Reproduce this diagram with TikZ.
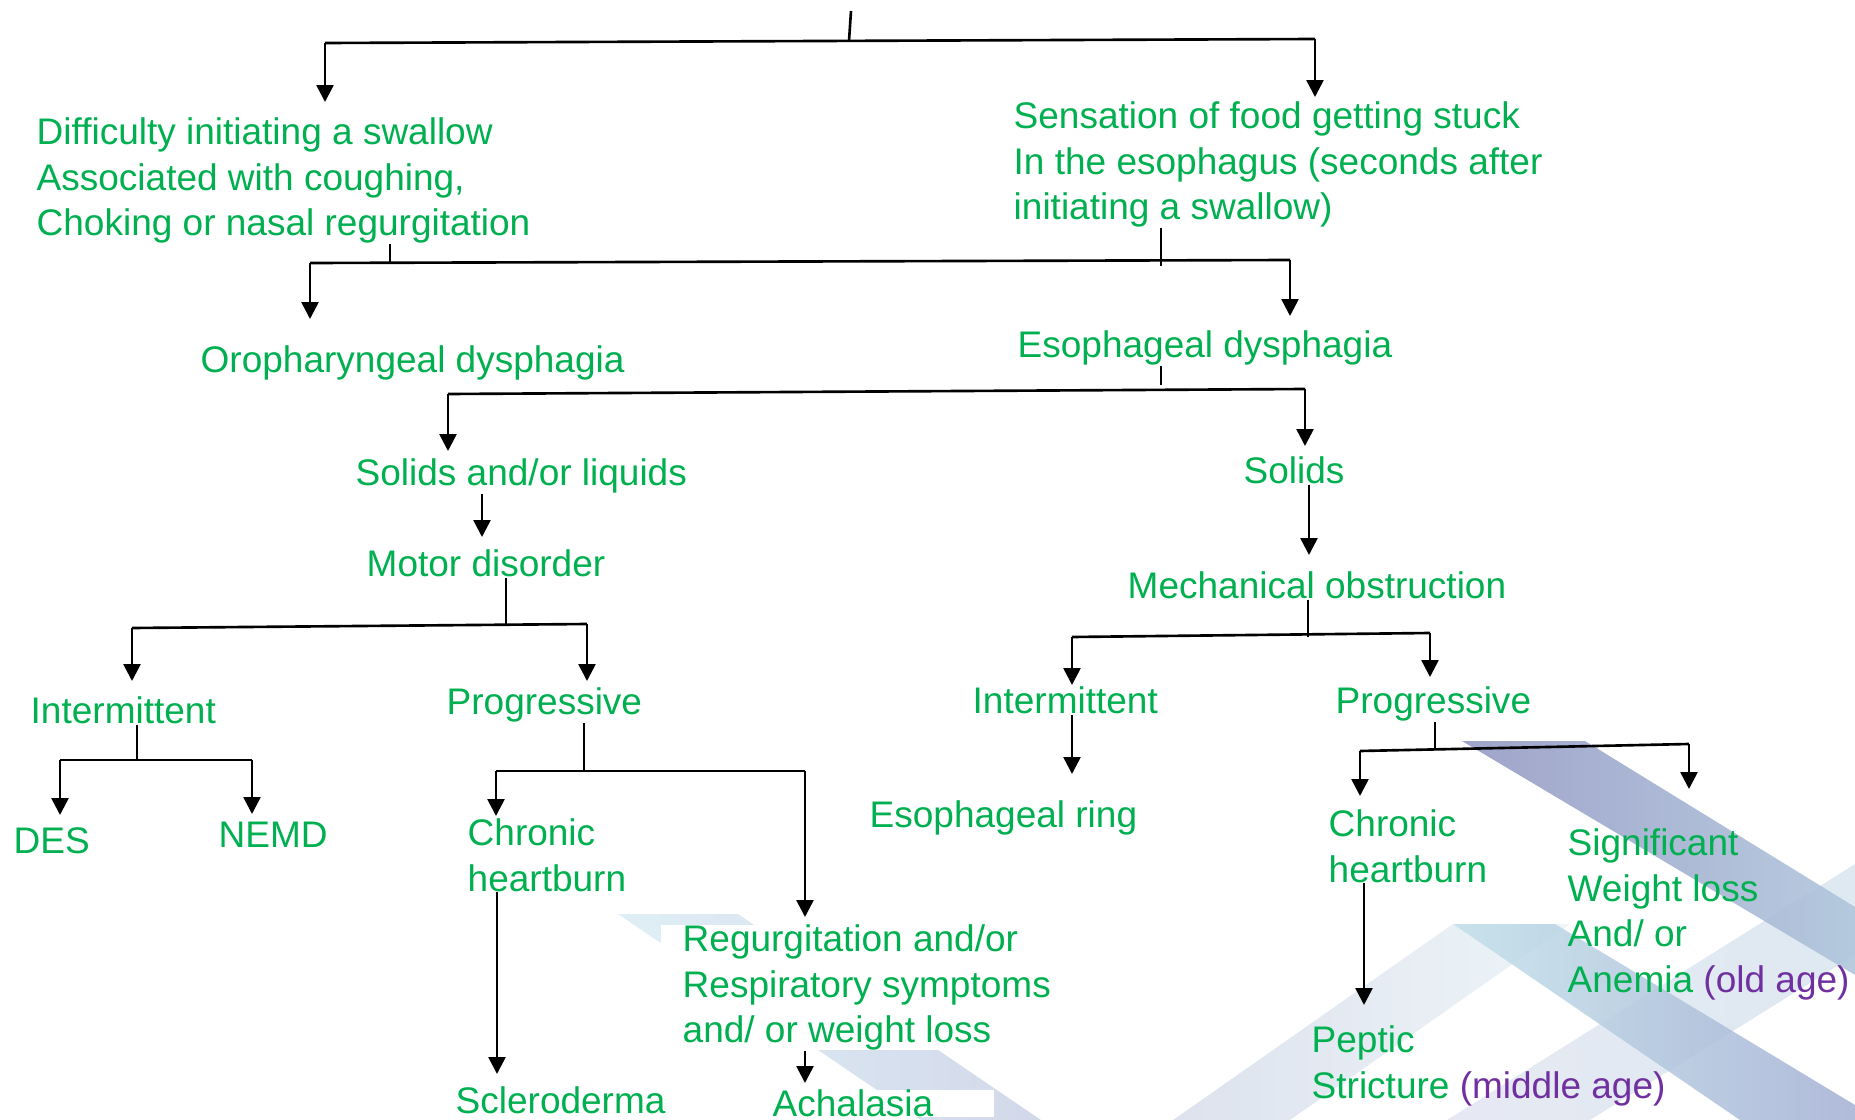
\documentclass[tikz,border=0pt]{standalone}
\usepackage{fontspec}
\setmainfont{Liberation Sans}
\usetikzlibrary{arrows.meta}

\definecolor{grn}{HTML}{00B050}
\definecolor{purp}{HTML}{7030A0}

\begin{document}
\begin{tikzpicture}[
	txt/.style={text=grn,font=\fontsize{10.53pt}{12.95pt}\selectfont,align=left,inner sep=0pt,anchor=north west,yshift=0.03cm},
	conn/.style={line width=0.75pt},
	arr/.style={conn,-{Triangle[width=0.17cm,length=0.17cm]}},
	band/.style={draw=none,opacity=0.9}]
	\useasboundingbox (0,0) rectangle (18.55,-11.2);
	
	%background stripes
	\shade[band,left color={rgb,255:red,220;green,237;blue,245},right color={rgb,255:red,205;green,212;blue,231}] (6.18,-9.14)--(7.38,-9.14)--(10.41,-11.2)--(9.21,-11.2)--cycle;
	\shade[band,left color={rgb,255:red,217;green,223;blue,236},right color={rgb,255:red,236;green,244;blue,247}] (14.53,-9.24)--(15.70,-9.24)--(12.90,-11.2)--(11.73,-11.2)--cycle;
	\shade[band,opacity=0.75,left color={rgb,255:red,222;green,226;blue,239},right color={rgb,255:red,211;green,226;blue,236}] (14.47,-11.2)--(18.55,-8.64)--(18.55,-9.55)--(15.90,-11.2)--cycle;
	\shade[band,opacity=0.85,left color={rgb,255:red,194;green,224;blue,234},right color={rgb,255:red,163;green,175;blue,211}] (14.53,-9.24)--(15.55,-9.24)--(18.55,-11.05)--(18.55,-11.2)--(17.40,-11.2)--cycle;
	\shade[band,left color={rgb,255:red,149;green,154;blue,196},right color={rgb,255:red,176;green,198;blue,220}] (14.62,-7.41)--(15.85,-7.41)--(18.55,-9.07)--(18.55,-9.75)--cycle;
	
	%texts
	\node[txt] (diff) at (0.36,-1.20) {Difficulty initiating a swallow\\Associated with coughing,\\Choking or nasal regurgitation};
	\node[txt] (sens) at (10.13,-1.04) {Sensation of food getting stuck\\In the esophagus (seconds after\\initiating a swallow)};
	\node[txt] (oro) at (2.00,-3.48) {Oropharyngeal dysphagia};
	\node[txt] (eso) at (10.17,-3.33) {Esophageal dysphagia};
	\node[txt] (sol) at (3.55,-4.61) {Solids and/or liquids};
	\node[txt] (solid) at (12.43,-4.59) {Solids};
	\node[txt] (motor) at (3.66,-5.52) {Motor disorder};
	\node[txt] (mech) at (11.27,-5.74) {Mechanical obstruction};
	\node[txt] (int1) at (0.30,-6.99) {Intermittent};
	\node[txt] (prog1) at (4.46,-6.90) {Progressive};
	\node[txt] (int2) at (9.72,-6.89) {Intermittent};
	\node[txt] (prog2) at (13.35,-6.89) {Progressive};
	\node[txt] (des) at (0.13,-8.30) {DES};
	\node[txt] (nemd) at (2.18,-8.24) {NEMD};
	\node[txt] (chr1) at (4.67,-8.21) {Chronic\\heartburn};
	\node[txt,fill=white,inner xsep=0.22cm] (regurg) at (6.60,-9.27) {Regurgitation and/or\\Respiratory symptoms\\and/ or weight loss};
	\node[txt] (sclero) at (4.55,-10.89) {Scleroderma};
	\node[txt,fill=white,text width=2.21cm] (achal) at (7.72,-10.92) {Achalasia};
	\node[txt] (ring) at (8.69,-8.03) {Esophageal ring};
	\node[txt] (chr2) at (13.28,-8.12) {Chronic\\heartburn};
	\node[txt] (sig) at (15.67,-8.31) {Significant\\Weight loss\\And/ or\\Anemia \textcolor{purp}{(old age)}};
	\node[txt] (pep) at (13.11,-10.28) {Peptic\\Stricture \textcolor{purp}{(middle age)}};
	
	%top split
	\coordinate (top) at (8.51,-0.11);
	\coordinate (j0) at (8.49,-0.41);
	\coordinate (l0) at (3.25,-0.43);
	\coordinate (r0) at (13.15,-0.39);
	\coordinate (t0l) at (3.25,-1.02);
	\coordinate (t0r) at (13.15,-0.97);
	\draw[conn] (top)--(j0);
	\draw[conn] (l0)--(r0);
	\draw[arr] (l0)--(t0l);
	\draw[arr] (r0)--(t0r);
	
	%symptoms to type of dysphagia
	\coordinate (j1a) at (3.90,-2.62);
	\coordinate (j1b) at (11.61,-2.66);
	\coordinate (l1) at (3.10,-2.63);
	\coordinate (r1) at (12.90,-2.60);
	\coordinate (t1l) at (3.10,-3.19);
	\coordinate (t1r) at (12.90,-3.16);
	\draw[conn] (diff.south -| j1a)--(j1a);
	\draw[conn] (sens.south -| j1b)--(j1b);
	\draw[conn] (l1)--(r1);
	\draw[arr] (l1)--(t1l);
	\draw[arr] (r1)--(t1r);
	
	%esophageal dysphagia split
	\coordinate (j2) at (11.61,-3.85);
	\coordinate (l2) at (4.48,-3.94);
	\coordinate (r2) at (13.05,-3.89);
	\coordinate (t2l) at (4.48,-4.51);
	\coordinate (t2r) at (13.05,-4.46);
	\draw[conn] (eso.south -| j2)--(j2);
	\draw[conn] (l2)--(r2);
	\draw[arr] (l2)--(t2l);
	\draw[arr] (r2)--(t2r);
	
	\coordinate (tmot) at (4.82,-5.37);
	\coordinate (tmech) at (13.09,-5.55);
	\draw[arr] (sol.south -| tmot)--(tmot);
	\draw[arr] (solid.south -| tmech)--(tmech);
	
	%motor disorder
	\coordinate (j3) at (5.06,-6.25);
	\coordinate (l3) at (1.32,-6.28);
	\coordinate (r3) at (5.87,-6.24);
	\coordinate (t3l) at (1.32,-6.81);
	\coordinate (t3r) at (5.87,-6.81);
	\draw[conn] (motor.south -| j3)--(j3);
	\draw[conn] (l3)--(r3);
	\draw[arr] (l3)--(t3l);
	\draw[arr] (r3)--(t3r);
	
	\coordinate (j4) at (1.37,-7.60);
	\coordinate (l4) at (0.60,-7.60);
	\coordinate (r4) at (2.52,-7.60);
	\coordinate (t4l) at (0.60,-8.15);
	\coordinate (t4r) at (2.52,-8.14);
	\draw[conn] (int1.south -| j4)--(j4);
	\draw[conn] (l4)--(r4);
	\draw[arr] (l4)--(t4l);
	\draw[arr] (r4)--(t4r);
	
	\coordinate (j5) at (5.84,-7.71);
	\coordinate (l5) at (4.96,-7.71);
	\coordinate (r5) at (8.05,-7.71);
	\coordinate (t5l) at (4.96,-8.16);
	\coordinate (t5r) at (8.05,-9.17);
	\draw[conn] (prog1.south -| j5)--(j5);
	\draw[conn] (l5)--(r5);
	\draw[arr] (l5)--(t5l);
	\draw[arr] (r5)--(t5r);
	
	\coordinate (tscl) at (4.97,-10.74);
	\coordinate (tach) at (8.05,-10.83);
	\draw[arr] (chr1.south -| tscl)--(tscl);
	\draw[arr] (regurg.south -| tach)--(tach);
	
	%mechanical obstruction
	\coordinate (j6) at (13.08,-6.37);
	\coordinate (l6) at (10.72,-6.37);
	\coordinate (r6) at (14.30,-6.33);
	\coordinate (t6l) at (10.72,-6.85);
	\coordinate (t6r) at (14.30,-6.77);
	\draw[conn] (mech.south -| j6)--(j6);
	\draw[conn] (l6)--(r6);
	\draw[arr] (l6)--(t6l);
	\draw[arr] (r6)--(t6r);
	
	\coordinate (tring) at (10.72,-7.74);
	\draw[arr] (int2.south -| tring)--(tring);
	
	\coordinate (j7) at (14.35,-7.49);
	\coordinate (l7) at (13.60,-7.51);
	\coordinate (r7) at (16.89,-7.44);
	\coordinate (t7l) at (13.60,-7.96);
	\coordinate (t7r) at (16.89,-7.89);
	\draw[conn] (prog2.south -| j7)--(j7);
	\draw[conn] (l7)--(r7);
	\draw[arr] (l7)--(t7l);
	\draw[arr] (r7)--(t7r);
	
	\coordinate (tpep) at (13.64,-10.05);
	\draw[arr] (chr2.south -| tpep)--(tpep);
	
\end{tikzpicture}
\end{document}
